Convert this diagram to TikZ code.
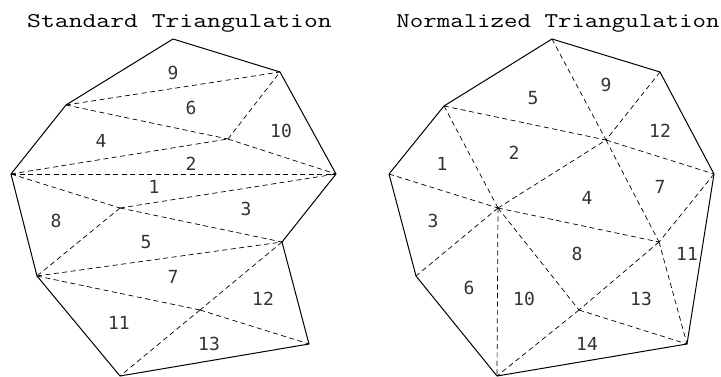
\documentclass[tikz,border=0pt]{standalone}
\usepackage{fontspec}
\newfontfamily\numfont{DejaVu Sans Mono}
\begin{document}
\begin{tikzpicture}[x=1pt,y=-1pt,
  hull/.style={line width=1pt, line join=round, line cap=round},
  diag/.style={line width=0.7pt, dash pattern=on 5pt off 3.5pt},
  lbl/.style={font=\numfont\fontsize{18}{18}\selectfont, inner sep=0pt, text=black!80},
  ttl/.style={font=\ttfamily\fontsize{21}{21}\selectfont, inner sep=0pt, anchor=base}]
\useasboundingbox (0,0) rectangle (721,377);

% ---------- Standard Triangulation ----------
\node[ttl] (t1) at (179.5,28) {\scalebox{1.28}[1]{Standard Triangulation}};
\coordinate (aT) at (173,39);
\coordinate (aUR) at (280,72);
\coordinate (aR) at (336,174);
\coordinate (aC) at (282,242);
\coordinate (aBR) at (309,344);
\coordinate (aB) at (120,376);
\coordinate (aLL) at (37,276);
\coordinate (aL) at (11,174);
\coordinate (aUL) at (66,105);
\coordinate (aP1) at (228,139);
\coordinate (aP2) at (120,208);
\coordinate (aP3) at (200,310);

\draw[diag] (aUL) -- (aUR);
\draw[diag] (aUL) -- (aP1);
\draw[diag] (aP1) -- (aUR);
\draw[diag] (aL) -- (aP1);
\draw[diag] (aP1) -- (aR);
\draw[diag] (aL) -- (aR);
\draw[diag] (aL) -- (aP2);
\draw[diag] (aP2) -- (aR);
\draw[diag] (aP2) -- (aC);
\draw[diag] (aP2) -- (aLL);
\draw[diag] (aLL) -- (aC);
\draw[diag] (aLL) -- (aP3);
\draw[diag] (aP3) -- (aBR);
\draw[diag] (aC) -- (aP3);
\draw[diag] (aP3) -- (aB);

\draw[hull] (aT) -- (aUR) -- (aR) -- (aC) -- (aBR) -- (aB) -- (aLL) -- (aL) -- (aUL) -- cycle;

\node[lbl] (a9) at (173,73) {9};
\node[lbl] (a6) at (191,108) {6};
\node[lbl] (a10) at (281,131) {10};
\node[lbl] (a4) at (101,141) {4};
\node[lbl] (a2) at (191,164) {2};
\node[lbl] (a1) at (154,187) {1};
\node[lbl] (a3) at (246,209) {3};
\node[lbl] (a8) at (56,221) {8};
\node[lbl] (a5) at (146,242) {5};
\node[lbl] (a7) at (173,277) {7};
\node[lbl] (a12) at (263,299) {12};
\node[lbl] (a11) at (119,323) {11};
\node[lbl] (a13) at (209,344) {13};

% ---------- Normalized Triangulation ----------
\node[ttl] (t2) at (558,28) {\scalebox{1.245}[1]{Normalized Triangulation}};
\coordinate (bT) at (552,39);
\coordinate (bUR) at (660,72);
\coordinate (bR) at (714,174);
\coordinate (bC) at (659,242);
\coordinate (bBR) at (687,344);
\coordinate (bB) at (497,376);
\coordinate (bLL) at (416,276);
\coordinate (bL) at (389,174);
\coordinate (bUL) at (444,106);
\coordinate (bQ1) at (606,140);
\coordinate (bQ2) at (498,208);
\coordinate (bP3) at (579,310);

\draw[diag] (bT) -- (bQ1);
\draw[diag] (bUR) -- (bQ1);
\draw[diag] (bUL) -- (bQ1);
\draw[diag] (bQ1) -- (bR);
\draw[diag] (bUL) -- (bQ2);
\draw[diag] (bL) -- (bQ2);
\draw[diag] (bQ2) -- (bQ1);
\draw[diag] (bQ1) -- (bC);
\draw[diag] (bR) -- (bC);
\draw[diag] (bQ2) -- (bC);
\draw[diag] (bQ2) -- (bLL);
\draw[diag] (bQ2) -- (bB);
\draw[diag] (bQ2) -- (bP3);
\draw[diag] (bC) -- (bP3);
\draw[diag] (bP3) -- (bB);
\draw[diag] (bP3) -- (bBR);
\draw[diag] (bC) -- (bBR);

\draw[hull] (bT) -- (bUR) -- (bR) -- (bBR) -- (bB) -- (bLL) -- (bL) -- (bUL) -- cycle;

\node[lbl] (b5) at (533,98) {5};
\node[lbl] (b9) at (606,85) {9};
\node[lbl] (b12) at (660,131) {12};
\node[lbl] (b1) at (442,164) {1};
\node[lbl] (b2) at (514,153) {2};
\node[lbl] (b7) at (660,187) {7};
\node[lbl] (b4) at (587,198) {4};
\node[lbl] (b3) at (433,221) {3};
\node[lbl] (b8) at (577,254) {8};
\node[lbl] (b11) at (687,254) {11};
\node[lbl] (b6) at (469,288) {6};
\node[lbl] (b10) at (524,299) {10};
\node[lbl] (b13) at (641,299) {13};
\node[lbl] (b14) at (587,344) {14};
\end{tikzpicture}
\end{document}
